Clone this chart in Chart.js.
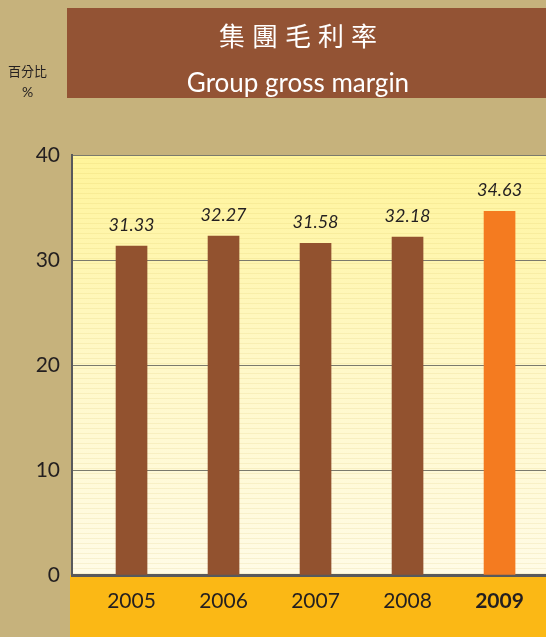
<!DOCTYPE html>
<html>
<head>
<meta charset="utf-8">
<script src="https://cdn.jsdelivr.net/npm/chart.js@4"></script>
<style>
  html, body { margin: 0; padding: 0; background: #c6b27c; }
  #wrap { position: relative; width: 546px; height: 637px; overflow: hidden; }
  #chart { position: absolute; left: 0; top: 0; }
  .title-box {
    position: absolute; left: 67px; top: 8px; width: 462px; height: 90px;
    padding-right: 17px;
    background: #935334; color: #fff; text-align: center;
  }
  .title-zh {
    position: absolute; left: 0; right: 17px; top: 12px;
    font: 26px "Noto Sans CJK TC", sans-serif; letter-spacing: 7px; line-height: 30px;
    padding-left: 7px;
  }
  .title-en {
    position: absolute; left: 0; right: 17px; top: 57px;
    font: 26px Lato, sans-serif; line-height: 34px;
  }
  .unit {
    position: absolute; left: 0; width: 55px; text-align: center; color: #231f20;
    font: 13px "Noto Sans CJK TC", sans-serif;
  }
</style>
</head>
<body>
<div id="wrap">
  <canvas id="chart" width="546" height="637"></canvas>
  <div class="title-box">
    <div class="title-zh">集團毛利率</div>
    <div class="title-en">Group gross margin</div>
  </div>
  <div class="unit" style="top: 61px;">百分比</div>
  <div class="unit" style="top: 83px; font-family: Lato, sans-serif; font-size: 14px;">%</div>
</div>
<script>
const years = ["2005", "2006", "2007", "2008", "2009"];
const margins = [31.33, 32.27, 31.58, 32.18, 34.63];
const yTicks = [0, 10, 20, 30, 40];

const barBrown = "#92522f";
const barOrange = "#f47b20";
const textDark = "#231f20";

const backdrop = {
  id: "backdrop",
  beforeDraw(chart) {
    const { ctx, chartArea: a } = chart;
    ctx.save();
    ctx.fillStyle = "#c6b27c";
    ctx.fillRect(0, 0, chart.width, chart.height);

    // orange strip behind the year labels
    ctx.fillStyle = "#fbb815";
    ctx.fillRect(a.left - 2, a.bottom, chart.width - a.left + 2, chart.height - a.bottom);

    const grad = ctx.createLinearGradient(0, a.top, 0, a.bottom);
    grad.addColorStop(0, "#fff49a");
    grad.addColorStop(0.5, "#fff8c8");
    grad.addColorStop(1, "#fffbe6");
    ctx.fillStyle = grad;
    ctx.fillRect(a.left, a.top, a.right - a.left, a.bottom - a.top);

    // faint horizontal stripes
    ctx.fillStyle = "rgba(200, 175, 60, 0.12)";
    for (let y = a.top + 3; y < a.bottom; y += 5) {
      ctx.fillRect(a.left, y, a.right - a.left, 1);
    }
    ctx.restore();
  },
};

const valueLabels = {
  id: "valueLabels",
  afterDatasetsDraw(chart) {
    const { ctx } = chart;
    const meta = chart.getDatasetMeta(0);
    ctx.save();
    ctx.fillStyle = textDark;
    ctx.font = "italic 18px Lato, sans-serif";
    ctx.textAlign = "center";
    ctx.textBaseline = "middle";
    meta.data.forEach((bar, i) => {
      ctx.fillText(margins[i].toFixed(2), bar.x, bar.y - 21);
    });
    ctx.restore();
  },
};

new Chart(document.getElementById("chart"), {
  type: "bar",
  data: {
    datasets: [
      {
        data: margins.map((v, i) => ({ x: i, y: v })),
        backgroundColor: margins.map((_, i) => (i === margins.length - 1 ? barOrange : barBrown)),
        barThickness: 31,
      },
    ],
  },
  options: {
    responsive: false,
    animation: false,
    devicePixelRatio: 1,
    layout: { padding: { top: 155, left: 0, right: 0, bottom: 0 } },
    plugins: { legend: { display: false }, tooltip: { enabled: false } },
    scales: {
      x: {
        type: "linear",
        offset: false,
        min: -0.647,
        max: 4.505,
        afterBuildTicks: (scale) => {
          scale.ticks = years.map((_, i) => ({ value: i }));
        },
        afterFit: (scale) => {
          scale.height = 62;
        },
        grid: { display: false, drawTicks: false },
        border: { display: true, color: "#58595b", width: 3 },
        ticks: {
          padding: 14,
          color: textDark,
          callback: (value) => years[value],
          font: (ctx) => ({
            family: "Lato, sans-serif",
            size: 21,
            weight: ctx.tick && ctx.tick.value === years.length - 1 ? "bold" : "normal",
          }),
        },
      },
      y: {
        min: 0,
        max: 40,
        afterBuildTicks: (scale) => {
          scale.ticks = yTicks.map((v) => ({ value: v }));
        },
        afterFit: (scale) => {
          scale.width = 72;
        },
        grid: { color: "#7b7a6c", lineWidth: 1, drawTicks: false },
        border: { display: true, color: "#58595b", width: 2 },
        ticks: {
          padding: 12,
          color: textDark,
          font: { family: "Lato, sans-serif", size: 21 },
        },
      },
    },
  },
  plugins: [backdrop, valueLabels],
});
</script>
</body>
</html>
